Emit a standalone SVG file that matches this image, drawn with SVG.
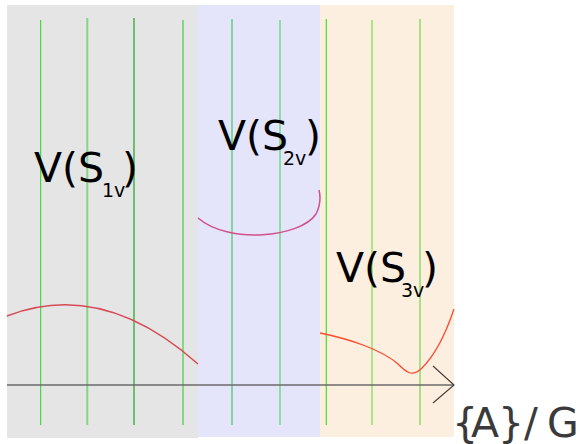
<svg xmlns="http://www.w3.org/2000/svg" width="580" height="444" viewBox="0 0 580 444">
<style>
.lbl{font-family:"DejaVu Sans","Liberation Sans",sans-serif;fill:#000;font-size:41px}
.sub{font-family:"DejaVu Sans","Liberation Sans",sans-serif;fill:#000;font-size:19px}
.curve{fill:none}
</style>
<rect width="580" height="444" fill="#ffffff"/>
<g id="panel1">
<rect x="7" y="5" width="191" height="433" fill="#e5e5e5"/>
<line x1="40.7" y1="20" x2="40.7" y2="425" stroke="#22d622" stroke-width="1"/>
<line x1="87.3" y1="18" x2="87.3" y2="425" stroke="#86d486" stroke-width="2"/>
<line x1="134" y1="18" x2="134" y2="425" stroke="#6cbf6c" stroke-width="2"/>
<line x1="183" y1="20" x2="183" y2="425" stroke="#86d686" stroke-width="2"/>
</g>
<g id="panel2">
<rect x="198" y="5" width="122" height="432" fill="#e4e4fb"/>
<line x1="232" y1="19" x2="232" y2="425" stroke="#3ccc5c" stroke-width="1.2"/>
<line x1="280" y1="20" x2="280" y2="425" stroke="#6cdc84" stroke-width="1.5"/>
</g>
<g id="panel3">
<rect x="320" y="5" width="134" height="432" fill="#fdefe0"/>
<line x1="326.3" y1="19" x2="326.3" y2="425" stroke="#44dd22" stroke-width="1.2"/>
<line x1="372" y1="20" x2="372" y2="425" stroke="#8ee46a" stroke-width="1.5"/>
<line x1="420" y1="19" x2="420" y2="425" stroke="#88dc66" stroke-width="1.5"/>
</g>
<g id="curves">
<path class="curve" d="M7,316 Q102.5,279 198,364" stroke="#d84a55" stroke-width="1.5"/>
<path class="curve" d="M198,218 C228,244 300,238 316,214 C320,206 321,198 319,190" stroke="#d0508a" stroke-width="1.5"/>
<path class="curve" d="M320,333 C350,339 382,350 398,364 C406,372 412,378 422,368 C436,354 447,330 454,309" stroke="#ff4a30" stroke-width="1.3"/>
</g>
<g id="connectors">
<line x1="7" y1="385" x2="454" y2="385" stroke="#6a6a6a" stroke-width="1.5"/>
<polyline points="433,366 454,385 433,403" fill="none" stroke="#4a4038" stroke-width="1.2"/>
</g>
<g id="label1">
<text class="lbl" x="34" y="182">V(S</text>
<text class="sub" x="102" y="197">1v</text>
<text class="lbl" x="122" y="182">)</text>
</g>
<g id="label2">
<text class="lbl" x="218" y="150">V(S</text>
<text class="sub" x="283" y="165">2v</text>
<text class="lbl" x="305" y="150">)</text>
</g>
<g id="label3">
<text class="lbl" x="336" y="282">V(S</text>
<text class="sub" x="401" y="297">3v</text>
<text class="lbl" x="422" y="282">)</text>
</g>
<g id="axislabel">
<text x="452 471 498 524 547" y="437" font-family="DejaVu Sans, Liberation Sans, sans-serif" font-size="41" fill="#3a3a3a">{A}/G</text>
</g>
</svg>
